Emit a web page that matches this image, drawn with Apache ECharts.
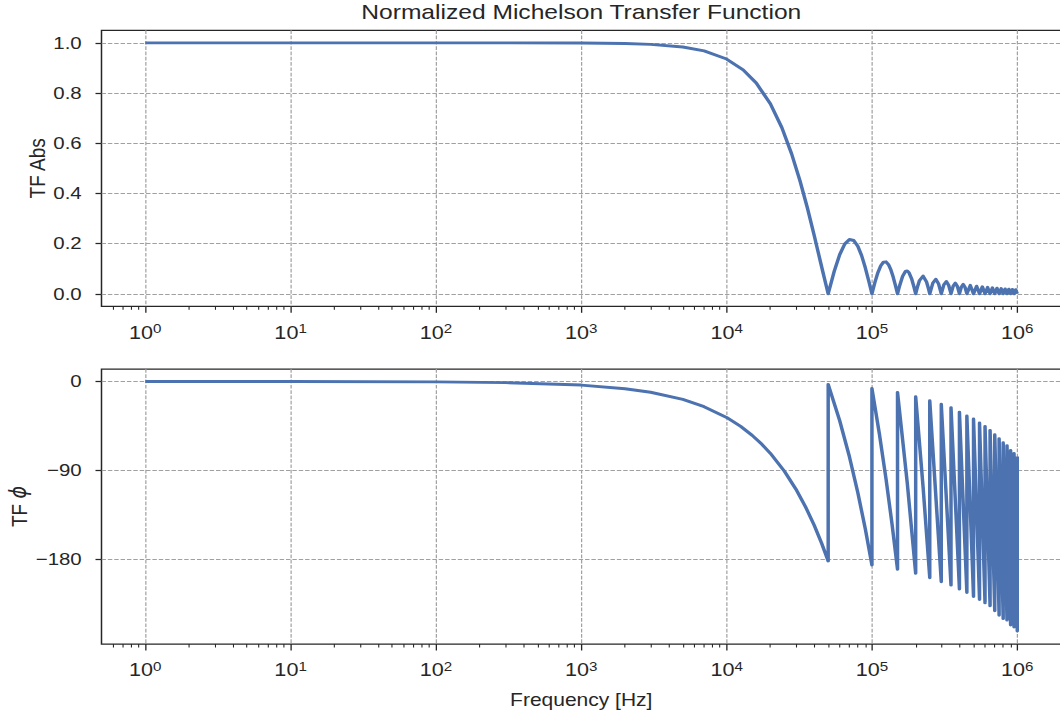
<!DOCTYPE html>
<html>
<head>
<meta charset="utf-8">
<script src="https://cdn.jsdelivr.net/npm/echarts@6/dist/echarts.min.js"></script>
<style>
html, body { margin: 0; padding: 0; background: #ffffff; overflow: hidden; width: 1060px; height: 718px; }
#chart { width: 883px; height: 718px; transform: scaleX(1.2004530); transform-origin: 0 0; }
</style>
</head>
<body>
<div id="chart"></div>
<script>
// ---------- data ----------
const titleText = 'Normalized Michelson Transfer Function';
const xName = 'Frequency [Hz]';

const xTickValues = [1, 10, 100, 1000, 10000, 100000, 1000000];
const xTickExponents = ['0', '1', '2', '3', '4', '5', '6'];

const absTickValues = [0, 0.2, 0.4, 0.6, 0.8, 1.0];
const absTickLabels = ['0.0', '0.2', '0.4', '0.6', '0.8', '1.0'];

const phaseTickValues = [-180, -90, 0];
const phaseTickLabels = ['\u2212180', '\u221290', '0'];

const absFreq = [
  1, 10, 100, 300, 1000, 2000, 3000, 5000, 7000, 10000, 13000, 16000, 20000, 24000, 28000, 32000, 36000, 40000, 42000, 44000, 46000, 48000, 50000,
  55000, 60000, 65000, 70000, 75000, 80000, 85000, 90000, 95000, 100000,
  105000, 110000, 115000, 120000, 125000, 130000, 135000, 140000, 145000, 150000,
  155000, 162500, 170000, 175000, 180000, 187500, 195000, 200000,
  205000, 212500, 225000, 237500, 245000, 250000,
  262500, 275000, 287500, 300000,
  312500, 325000, 337500, 350000,
  362500, 375000, 387500, 400000,
  412500, 425000, 437500, 450000,
  475000, 500000, 525000, 550000, 575000, 600000, 625000, 650000, 675000, 700000,
  725000, 750000, 775000, 800000, 825000, 850000, 875000, 900000, 925000, 950000, 975000, 1000000
];
const absValue = [
  1.0, 1.0, 1.0, 0.9999, 0.9993, 0.9974, 0.9941, 0.9836, 0.968, 0.9355, 0.8925, 0.840, 0.757, 0.662, 0.558, 0.450, 0.341, 0.234, 0.1826, 0.1331, 0.0861, 0.0416, 0,
  0.0894, 0.1559, 0.1981, 0.2162, 0.2122, 0.1892, 0.1515, 0.1039, 0.0518, 0,
  0.0468, 0.0850, 0.1120, 0.1261, 0.1273, 0.1164, 0.0954, 0.0668, 0.0339, 0,
  0.0317, 0.0693, 0.0890, 0.0909, 0.0841, 0.0600, 0.0252, 0,
  0.0240, 0.0530, 0.0707, 0.0474, 0.0201, 0,
  0.0429, 0.0579, 0.0391, 0,
  0.0360, 0.0490, 0.0333, 0,
  0.0310, 0.0424, 0.0290, 0,
  0.0273, 0.0374, 0.0257, 0,
  0.0335, 0, 0.0303, 0, 0.0277, 0, 0.0255, 0, 0.0236, 0,
  0.0220, 0, 0.0205, 0, 0.0193, 0, 0.0182, 0, 0.0172, 0, 0.0163, 0
];

const phaseFreq = [
  1, 10, 100, 300, 1000, 2000, 3000, 5000, 7000, 10000, 12500, 15000, 17500, 20000, 25000, 30000, 35000, 40000, 45000, 50000,
  50000, 60000, 70000, 80000, 90000, 100000,
  100000, 112500, 125000, 137500, 150000,
  150000, 175000, 200000,
  200000, 225000, 250000,
  250000, 300000,
  300000, 350000,
  350000, 400000,
  400000, 450000,
  450000, 500000,
  500000, 550000,
  550000, 600000,
  600000, 650000,
  650000, 700000,
  700000, 750000,
  750000, 800000,
  800000, 850000,
  850000, 900000,
  900000, 950000,
  950000, 1000000,
  1000000
];
const phaseValue = [
  0, -0.04, -0.36, -1.1, -3.6, -7.3, -10.9, -18.2, -25.5, -36.4, -45.5, -54.6, -63.7, -72.8, -91, -109.2, -127.4, -145.6, -163.8, -182,
  -3, -39.6, -76.2, -112.8, -149.4, -186,
  -7, -52.9, -98.8, -144.6, -190.5,
  -11, -102.8, -194.5,
  -15.5, -107.3, -199,
  -19.5, -203,
  -23, -206.5,
  -26.5, -210.5,
  -31, -214,
  -35, -218,
  -38, -221,
  -42, -224.5,
  -45.5, -227.5,
  -49.5, -232.5,
  -54, -237,
  -58, -240.5,
  -62, -242,
  -65, -247,
  -70, -249,
  -73, -253,
  -76
];

// ---------- chart ----------
const FONT = "'Liberation Sans', Arial, sans-serif";
const INK = '#262626';
const LINE = '#4C72B0';
const GRIDC = '#a0a0a0';

// minor tick positions of a log axis (2..9 x 10^k), as matplotlib draws them
const xMinorTicks = [0.6, 0.7, 0.8, 0.9];
for (let k = 0; k <= 5; k++) {
  for (let m = 2; m <= 9; m++) xMinorTicks.push(m * Math.pow(10, k));
}

const absData = absFreq.map((f, i) => [f, absValue[i]]);
const phaseData = phaseFreq.map((f, i) => [f, phaseValue[i]]);

const gridLeft = 84.55, gridWidth = 799.3;

function tickLabelFor(values, labels, v) {
  let best = 0, bestErr = Infinity;
  values.forEach((t, i) => { const e = Math.abs(t - v); if (e < bestErr) { bestErr = e; best = i; } });
  return labels[best];
}

function xAxes(gridIndex) {
  return [
    {
      type: 'log', logBase: 10, gridIndex: gridIndex, min: 0.5, max: 2e6, position: 'bottom',
      axisLine: { show: false, onZero: false },
      axisTick: { show: true, customValues: xTickValues, length: 6.5, lineStyle: { color: INK, width: 1.1 } },
      axisLabel: {
        show: true, customValues: xTickValues, margin: 16,
        formatter: function (v) {
          const i = xTickValues.findIndex(t => Math.abs(t - v) / t < 1e-6);
          return '{b|10}{s|' + xTickExponents[i] + '}';
        },
        rich: {
          b: { fontFamily: FONT, fontSize: 18, color: INK, lineHeight: 19, verticalAlign: 'bottom' },
          s: { fontFamily: FONT, fontSize: 12.6, color: INK, lineHeight: 10, padding: [0, 0, 15, 0], verticalAlign: 'top' }
        }
      },
      splitLine: { show: true, lineStyle: { color: GRIDC, width: 1, type: [3.7, 1.6] } },
      name: gridIndex === 1 ? xName : '',
      nameLocation: 'middle', nameGap: 47.5, nameMoveOverlap: false,
      nameTextStyle: { fontFamily: FONT, fontSize: 17.5, color: INK, lineHeight: 18 }
    },
    {
      type: 'log', logBase: 10, gridIndex: gridIndex, min: 0.5, max: 2e6, position: 'bottom',
      axisLine: { show: false, onZero: false },
      axisLabel: { show: false },
      splitLine: { show: false },
      axisTick: { show: true, customValues: xMinorTicks, length: 3.5, lineStyle: { color: INK, width: 0.9 } }
    }
  ];
}

const option = {
  animation: false,
  backgroundColor: '#ffffff',
  title: {
    text: titleText,
    left: gridLeft + gridWidth / 2, top: 1, padding: 0,
    textAlign: 'center',
    textStyle: { fontFamily: FONT, fontSize: 20.5, fontWeight: 'normal', color: INK, lineHeight: 22 }
  },
  grid: [
    { left: gridLeft, top: 30.3, width: gridWidth, height: 276, show: true, borderColor: INK, borderWidth: 1.25, backgroundColor: '#ffffff', containLabel: false, outerBoundsMode: 'none' },
    { left: gridLeft, top: 369, width: gridWidth, height: 275, show: true, borderColor: INK, borderWidth: 1.25, backgroundColor: '#ffffff', containLabel: false, outerBoundsMode: 'none' }
  ],
  xAxis: xAxes(0).concat(xAxes(1)),
  yAxis: [
    {
      type: 'value', gridIndex: 0, min: -0.05, max: 1.05,
      axisLine: { show: false, onZero: false },
      axisTick: { show: true, customValues: absTickValues, length: 5, lineStyle: { color: INK, width: 1.25 } },
      axisLabel: {
        customValues: absTickValues, margin: 16.5, fontFamily: FONT, fontSize: 17, color: INK,
        formatter: v => tickLabelFor(absTickValues, absTickLabels, v)
      },
      splitLine: { show: true, lineStyle: { color: GRIDC, width: 1, type: [3.7, 1.6] } },
      name: 'TF Abs', nameLocation: 'middle', nameGap: 44, nameMoveOverlap: false,
      nameTextStyle: { fontFamily: FONT, fontSize: 19, color: INK, lineHeight: 19 }
    },
    {
      type: 'value', gridIndex: 1, min: -266.2, max: 12.7,
      axisLine: { show: false, onZero: false },
      axisTick: { show: true, customValues: phaseTickValues, length: 5, lineStyle: { color: INK, width: 1.25 } },
      axisLabel: {
        customValues: phaseTickValues, margin: 16.5, fontFamily: FONT, fontSize: 17, color: INK,
        formatter: v => tickLabelFor(phaseTickValues, phaseTickLabels, v)
      },
      splitLine: { show: true, lineStyle: { color: GRIDC, width: 1, type: [3.7, 1.6] } },
      name: 'TF {i|\u03D5}', nameLocation: 'middle', nameGap: 59.5, nameMoveOverlap: false,
      nameTextStyle: {
        fontFamily: FONT, fontSize: 19, color: INK, lineHeight: 19,
        rich: { i: { fontFamily: "'DejaVu Sans', sans-serif", fontStyle: 'italic', fontSize: 19, color: INK, lineHeight: 19 } }
      }
    }
  ],
  series: [
    {
      type: 'line', xAxisIndex: 0, yAxisIndex: 0, data: absData,
      symbol: 'none', showSymbol: false, smooth: false, silent: true,
      lineStyle: { color: LINE, width: 2.9, join: 'round', cap: 'butt' }
    },
    {
      type: 'line', xAxisIndex: 2, yAxisIndex: 1, data: phaseData,
      symbol: 'none', showSymbol: false, smooth: false, silent: true,
      lineStyle: { color: LINE, width: 2.9, join: 'round', cap: 'butt' }
    }
  ]
};

const chart = echarts.init(document.getElementById('chart'), null, { renderer: 'svg' });
chart.setOption(option);
</script>
</body>
</html>
